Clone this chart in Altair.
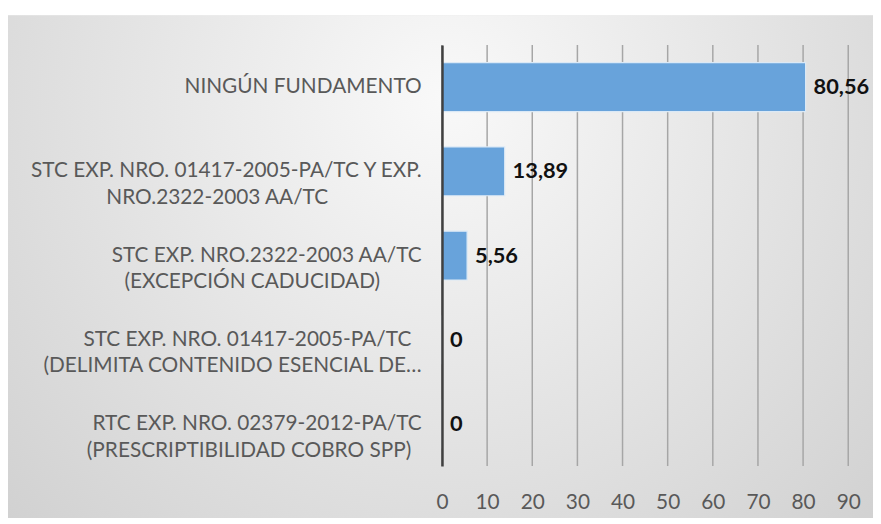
import altair as alt
import pandas as pd

categories = [
    "NINGÚN FUNDAMENTO",
    "STC EXP. NRO. 01417-2005-PA/TC Y EXP.|NRO.2322-2003 AA/TC",
    "STC EXP. NRO.2322-2003 AA/TC|(EXCEPCIÓN CADUCIDAD)",
    "STC EXP. NRO. 01417-2005-PA/TC|(DELIMITA CONTENIDO ESENCIAL DE…",
    "RTC EXP. NRO. 02379-2012-PA/TC|(PRESCRIPTIBILIDAD COBRO SPP)",
]
values = [80.56, 13.89, 5.56, 0, 0]
x_ticks = [0, 10, 20, 30, 40, 50, 60, 70, 80, 90]

df = pd.DataFrame({"cat": categories, "value": values})
ticks_df = pd.DataFrame({"t": x_ticks})

FONT = "Lato"

L0 = "split(datum.label, '|')[0]"
L1 = "split(datum.label, '|')[1]"
MX = f"max(length({L0}), length({L1}))"
label_expr = (
    f"indexof(datum.label, '|') < 0 ? datum.label : "
    f"[pad({L0}, {MX}, '\u2002', 'center') + '\u200b', "
    f"pad({L1}, {MX}, '\u2002', 'center') + '\u200b']"
)

bg = alt.Chart(pd.DataFrame({"bg": [1]})).mark_rect(
    fill={
        "gradient": "radial",
        "x1": 0.5, "y1": 0.3, "r1": 0,
        "x2": 0.5, "y2": 0.3, "r2": 0.85,
        "stops": [
            {"offset": 0, "color": "#f9f9f9"},
            {"offset": 1, "color": "#c8c8c8"},
        ],
    },
).encode(
    x=alt.value(-438), x2=alt.value(445),
    y=alt.value(-30), y2=alt.value(490),
)

x_scale = alt.Scale(domain=[0, 90], nice=False)

grid = alt.Chart(ticks_df).mark_rule(color="#a6a6a6", strokeWidth=1.5).encode(
    x=alt.X("t:Q", scale=x_scale)
)

y_enc = alt.Y(
    "cat:N",
    sort=categories,
    scale=alt.Scale(paddingInner=0.42, paddingOuter=0.21),
    axis=alt.Axis(
        title=None,
        labelExpr=label_expr,
        labelFont=FONT,
        labelFontSize=21,
        labelColor="#595959",
        labelLineHeight=27,
        labelPadding=21,
        labelLimit=500,
        ticks=False,
        domain=True,
        domainColor="#404040",
        domainWidth=2.5,
        grid=False,
        zindex=1,
    ),
)

x_enc = alt.X(
    "value:Q",
    scale=x_scale,
    axis=alt.Axis(
        title=None,
        values=x_ticks,
        labelFont=FONT,
        labelFontSize=21,
        labelColor="#595959",
        labelPadding=26,
        labelFlush=False,
        ticks=False,
        domain=False,
        grid=False,
        zindex=1,
    ),
)

bars = alt.Chart(df).mark_bar(
    color="#68a3db", stroke="#dbe9f6", strokeWidth=1.2
).encode(x=x_enc, y=y_enc)

labels = alt.Chart(df).transform_calculate(
    lbl="replace(format(datum.value, '.2~f'), '.', ',')"
).mark_text(
    align="left", baseline="middle", dx=8, font=FONT, fontSize=22,
    fontWeight="bold", color="#111111"
).encode(
    x=alt.X("value:Q"),
    y=alt.Y("cat:N", sort=categories),
    text="lbl:N",
)

chart = alt.layer(bg, grid, bars, labels).properties(
    width=410,
    height=425,
    autosize=alt.AutoSizeParams(type="none"),
    padding={"left": 438, "top": 35, "right": 25, "bottom": 50},
    background="white",
).configure_view(strokeWidth=0)

chart.save("out.html", embed_options={"renderer": "svg", "actions": False})
